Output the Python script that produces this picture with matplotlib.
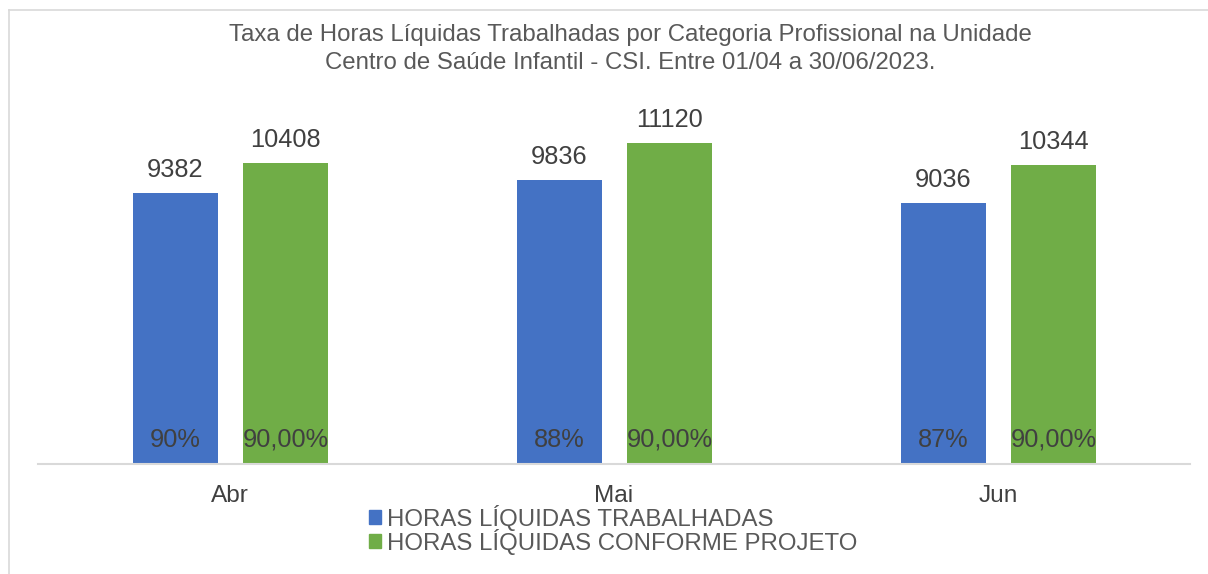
import matplotlib
matplotlib.use("Agg")
import matplotlib.pyplot as plt
import numpy as np
from matplotlib.lines import Line2D
from matplotlib.patches import Patch

categories = ["Abr", "Mai", "Jun"]
trabalhadas = [9382, 9836, 9036]
projeto = [10408, 11120, 10344]
pct_trab = ["90%", "88%", "87%"]
pct_proj = ["90,00%", "90,00%", "90,00%"]
series_names = ["HORAS LÍQUIDAS TRABALHADAS", "HORAS LÍQUIDAS CONFORME PROJETO"]
title = ("Taxa de Horas Líquidas Trabalhadas por Categoria Profissional na Unidade\n"
         "Centro de Saúde Infantil - CSI. Entre 01/04 a 30/06/2023.")

plt.rcParams['font.family'] = ['Liberation Sans', 'DejaVu Sans']
TXT = "#404040"
BLUE = "#4472C4"
GREEN = "#70AD47"

W, H = 1208, 574
fig = plt.figure(figsize=(W / 100, H / 100), dpi=100)
fig.patch.set_facecolor("white")

# chart border (left and top visible)
fig.add_artist(Line2D([9 / W, 9 / W], [0, 1 - 9.5 / H], transform=fig.transFigure,
                      color="#d9d9d9", lw=1.2))
fig.add_artist(Line2D([9 / W, 1], [1 - 9.5 / H, 1 - 9.5 / H], transform=fig.transFigure,
                      color="#d9d9d9", lw=1.2))

ax = fig.add_axes([38 / W, 110 / H, (1190 - 38) / W, 364 / H])
x = np.arange(len(categories))
bw = 0.221
off = 0.1432
b1 = ax.bar(x - off + 0.001, trabalhadas, bw, color=BLUE, zorder=2)
b2 = ax.bar(x + off + 0.002, projeto, bw, color=GREEN, zorder=2)
ax.set_xlim(-0.5, len(categories) - 0.5)
ax.set_ylim(0, 12600)

for rects, vals, pcts in [(b1, trabalhadas, pct_trab), (b2, projeto, pct_proj)]:
    for r, v, p in zip(rects, vals, pcts):
        cx = r.get_x() + r.get_width() / 2
        ax.annotate(f"{v}", (cx, v), xytext=(0, 16.5), textcoords="offset points",
                    ha="center", va="center", fontsize=18.3, color=TXT)
        ax.annotate(p, (cx, 0), xytext=(0, 17.3), textcoords="offset points",
                    ha="center", va="center", fontsize=18.3, color=TXT)

for s in ["top", "right", "left"]:
    ax.spines[s].set_visible(False)
ax.spines["bottom"].set_color("#d9d9d9")
ax.spines["bottom"].set_linewidth(1.5)
ax.set_yticks([])
ax.set_xticks(x)
ax.set_xticklabels(categories, fontsize=17.6, color=TXT)
ax.tick_params(axis="x", length=0, pad=15)

fig.text(630 / W, 1 - 49 / H, title, ha="center", va="center", fontsize=17.3,
         color="#595959", linespacing=1.3)

handles = [Patch(color=BLUE), Patch(color=GREEN)]
leg = fig.legend(handles, series_names, loc="upper left",
                 bbox_to_anchor=(369 / W, 1 - 505 / H), ncol=1, frameon=False,
                 fontsize=17.3, handlelength=0.52, handleheight=0.52, handletextpad=0.22,
                 labelspacing=-0.1, borderpad=0, borderaxespad=0)
for t in leg.get_texts():
    t.set_color("#595959")

fig.savefig("out.png", dpi=100, facecolor="white")
